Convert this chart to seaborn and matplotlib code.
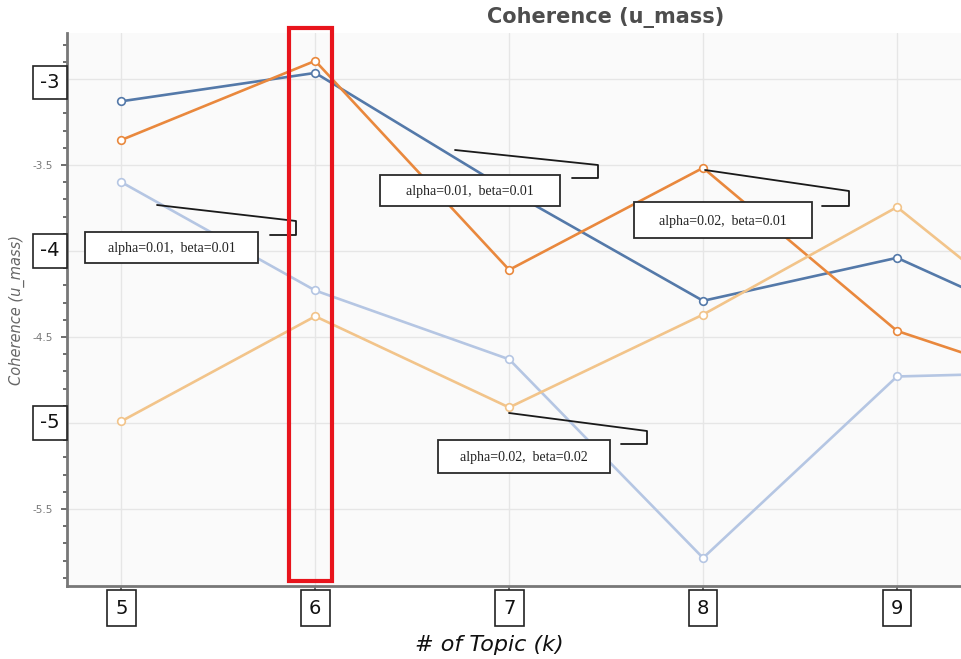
import pandas as pd
import seaborn as sns
import matplotlib.pyplot as plt
from matplotlib.lines import Line2D
from matplotlib.patches import Rectangle

# data
topics = [5, 6, 7, 8, 9, 10]
series_names = ["s1", "s2", "s3", "s4"]
coh_dark_blue = [-3.13, -2.965, -3.65, -4.29, -4.04, -4.55]
coh_dark_orange = [-3.355, -2.895, -4.11, -3.517, -4.465, -4.84]
coh_light_blue = [-3.60, -4.23, -4.63, -5.785, -4.73, -4.70]
coh_light_orange = [-4.99, -4.38, -4.91, -4.37, -3.745, -4.65]
colors = ["#5479a9", "#e9883d", "#b5c6e3", "#f2c48a"]

y_box_ticks = [-3, -4, -5]
y_small_ticks = [-3.5, -4.5, -5.5]
notes = ["alpha=0.01,  beta=0.01", "alpha=0.01,  beta=0.01",
         "alpha=0.02,  beta=0.01", "alpha=0.02,  beta=0.02"]

W, H = 961, 659

df = pd.DataFrame({
    "k": topics * 4,
    "coherence": coh_dark_blue + coh_dark_orange + coh_light_blue + coh_light_orange,
    "series": [s for s in series_names for _ in topics],
})

sns.set_style("white")
plt.rcParams["font.family"] = ["DejaVu Sans"]

fig = plt.figure(figsize=(W / 100, H / 100), dpi=100)
ax = fig.add_axes([67 / W, 1 - 586 / H, 1 - 67 / W, (586 - 33) / H])
ax.set_facecolor("#fafafa")

sns.lineplot(data=df, x="k", y="coherence", hue="series", hue_order=series_names,
             palette=colors, marker="o", markersize=5.5, markeredgewidth=1.2,
             linewidth=1.9, legend=False, ax=ax, zorder=3)
for line in ax.lines:
    line.set_markeredgecolor(line.get_color())
    line.set_markerfacecolor("white")

ax.set_xlim(4.72, 9.33)
ax.set_ylim(-5.948, -2.733)

ax.set_xticks(topics[:-1])
ax.set_xticklabels([""] * 5)
ax.set_yticks(sorted(y_box_ticks + y_small_ticks))
ax.set_yticks([v / 10 for v in range(-59, -27)], minor=True)
ax.set_yticklabels(["" if float(v).is_integer() else f"{v}" for v in sorted(y_box_ticks + y_small_ticks)],
                   fontsize=7.5, color="#777777")
ax.grid(True, color="#e6e6e6", linewidth=1, zorder=0)
ax.tick_params(axis="both", which="major", direction="out", length=4, width=1.2,
               color="#555555", left=True, bottom=True, pad=6)
ax.tick_params(axis="y", which="minor", direction="out", length=3, width=1.2,
               color="#555555", left=True)
for side in ["top", "right"]:
    ax.spines[side].set_visible(False)
for side in ["left", "bottom"]:
    ax.spines[side].set_color("#777777")
    ax.spines[side].set_linewidth(2)
ax.set_xlabel("")
ax.set_ylabel("")

# boxed tick labels pasted over the axes
for k in topics[:-1]:
    ax.annotate(f"{k}", xy=(k, 0), xycoords=("data", "axes fraction"),
                xytext=(0, -22), textcoords="offset pixels", ha="center", va="center",
                fontsize=14, color="#111111",
                bbox=dict(boxstyle="square,pad=0.42", fc="white", ec="#222222", lw=1.2))
for v, dy in zip(y_box_ticks, [-3.5, 0, 0]):
    ax.annotate(f"-{abs(v)}", xy=(0, v), xycoords=("axes fraction", "data"),
                xytext=(-17, dy), textcoords="offset pixels", ha="center", va="center",
                fontsize=14, color="#111111", annotation_clip=False,
                bbox=dict(boxstyle="square,pad=0.38", fc="white", ec="#222222", lw=1.2))


def fp(x, y):
    return x / W, 1 - y / H


fig.text(*fp(606, 18), "Coherence (u_mass)", ha="center", va="center",
         fontsize=15, fontweight="bold", color="#4d4d4d")
fig.text(*fp(17, 310), "Coherence (u_mass)", ha="center", va="center",
         fontsize=10.5, style="italic", color="#666666", rotation=90)
fig.text(*fp(489, 645), "# of Topic (k)", ha="center", va="center",
         fontsize=16, style="italic", color="#111111")

# red highlight on k = 6
x0, y0 = fp(289, 581)
x1, y1 = fp(332, 28)
fig.add_artist(Rectangle((x0, y0), x1 - x0, y1 - y0, transform=fig.transFigure,
                         fill=False, ec="#e8141c", lw=3, zorder=10))

# callout boxes with bracket leaders
callouts = [
    ((85, 232, 258, 263), [(157, 205), (296, 221), (296, 235), (270, 235)]),
    ((380, 175, 560, 206), [(455, 150), (598, 165), (598, 178), (572, 178)]),
    ((634, 202, 812, 238), [(705, 170), (849, 191), (849, 206), (822, 206)]),
    ((438, 440, 610, 473), [(509, 413), (647, 431), (647, 444), (621, 444)]),
]
for note, ((bx0, by0, bx1, by1), leader) in zip(notes, callouts):
    pts = [fp(px, py) for px, py in leader]
    fig.add_artist(Line2D([p[0] for p in pts], [p[1] for p in pts],
                          transform=fig.transFigure, color="#1a1a1a", lw=1.3, zorder=9))
    lx, ly = fp(bx0, by1)
    rx, ry = fp(bx1, by0)
    fig.add_artist(Rectangle((lx, ly), rx - lx, ry - ly, transform=fig.transFigure,
                             fc="white", ec="#2a2a2a", lw=1.3, zorder=11))
    fig.text(*fp((bx0 + bx1) / 2, (by0 + by1) / 2 + 1), note, ha="center", va="center",
             fontsize=10, family="Liberation Serif", color="#222222", zorder=12)

fig.savefig("out.png", dpi=100)
